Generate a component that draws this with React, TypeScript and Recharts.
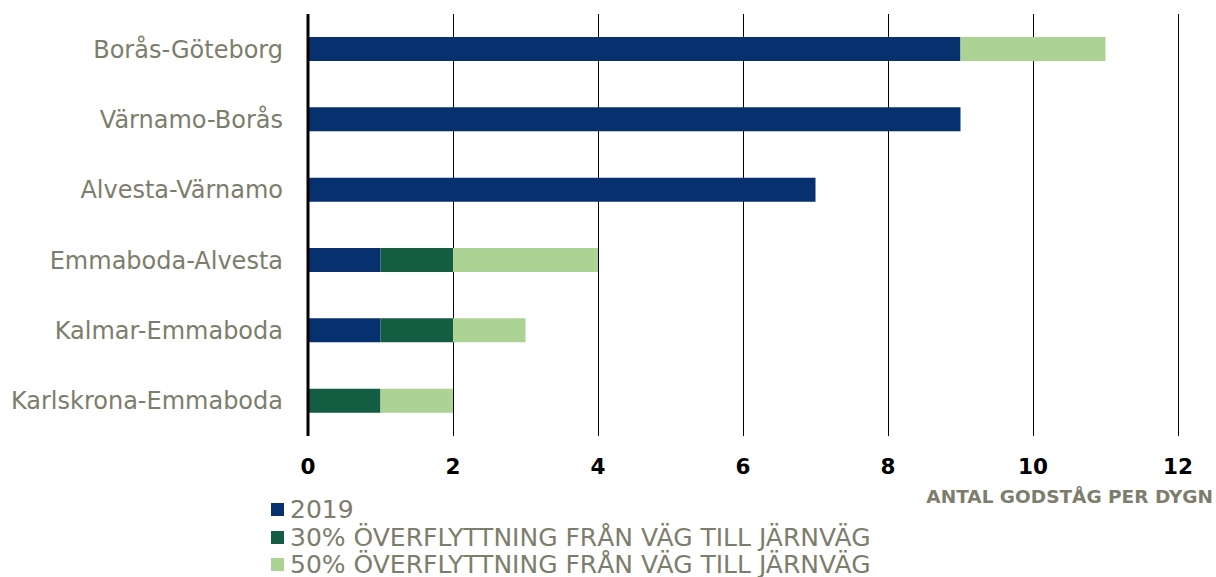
import React from "react"
import { BarChart, Bar, XAxis, YAxis, CartesianGrid, Legend } from "recharts"

const routes = [
  "Borås-Göteborg",
  "Värnamo-Borås",
  "Alvesta-Värnamo",
  "Emmaboda-Alvesta",
  "Kalmar-Emmaboda",
  "Karlskrona-Emmaboda",
]
const base2019 = [9, 9, 7, 1, 1, 0]
const shift30 = [0, 0, 0, 1, 1, 1]
const shift50 = [2, 0, 0, 2, 1, 1]
const xTicks = [0, 2, 4, 6, 8, 10, 12]

const seriesNames = [
  "2019",
  "30% ÖVERFLYTTNING FRÅN VÄG TILL JÄRNVÄG",
  "50% ÖVERFLYTTNING FRÅN VÄG TILL JÄRNVÄG",
]
const colors = ["#06306e", "#135d42", "#add394"]
const grey = "#7d7d6c"
const font = "Verdana, 'DejaVu Sans', sans-serif"

const data = routes.map((route, i) => ({
  route,
  y2019: base2019[i],
  p30: shift30[i],
  p50: shift50[i],
}))

function LegendBox() {
  return (
    <div style={{ fontFamily: font }}>
      {seriesNames.map((name, i) => (
        <div key={name} style={{ display: "flex", alignItems: "center", height: 27.5 }}>
          <span style={{ width: 13, height: 13, background: colors[i], marginRight: 6, display: "inline-block", flexShrink: 0 }} />
          <span style={{ fontSize: 25, color: grey, lineHeight: "27px", whiteSpace: "nowrap" }}>{name}</span>
        </div>
      ))}
    </div>
  )
}

export default function App() {
  return (
    <div style={{ position: "absolute", left: 0, top: 0, background: "#fff" }}>
      <BarChart
        width={1216}
        height={577}
        data={data}
        layout="vertical"
        margin={{ top: 14, right: 38, left: 0, bottom: 71 }}
        barSize={24}
      >
        <CartesianGrid horizontal={false} stroke="#000" strokeWidth={1} strokeOpacity={1} shapeRendering="crispEdges" />
        <XAxis
          type="number"
          domain={[0, 12]}
          ticks={xTicks}
          axisLine={false}
          tickLine={false}
          tickSize={0}
          tickMargin={23}
          height={70}
          tick={{ fill: "#000", fontSize: 21.5, fontWeight: "bold", fontFamily: font }}
          label={({ viewBox }: any) => (
            <text
              x={viewBox.x + viewBox.width + 35}
              y={viewBox.y + 67}
              textAnchor="end"
              fill={grey}
              fontSize={18.5}
              fontWeight="bold"
              fontFamily={font}
            >
              ANTAL GODSTÅG PER DYGN
            </text>
          )}
        />
        <YAxis
          type="category"
          dataKey="route"
          width={308}
          tickLine={false}
          tickSize={0}
          tickMargin={25}
          axisLine={{ stroke: "#000", strokeWidth: 3 }}
          tick={{ fill: grey, fontSize: 24, fontFamily: font }}
        />
        <Legend
          layout="vertical"
          align="center"
          verticalAlign="middle"
          content={() => <LegendBox />}
          wrapperStyle={{ left: 271, top: 496, width: "auto" }}
        />
        <Bar dataKey="y2019" stackId="a" fill={colors[0]} name={seriesNames[0]} isAnimationActive={false} />
        <Bar dataKey="p30" stackId="a" fill={colors[1]} name={seriesNames[1]} isAnimationActive={false} />
        <Bar dataKey="p50" stackId="a" fill={colors[2]} name={seriesNames[2]} isAnimationActive={false} />
      </BarChart>
    </div>
  )
}
